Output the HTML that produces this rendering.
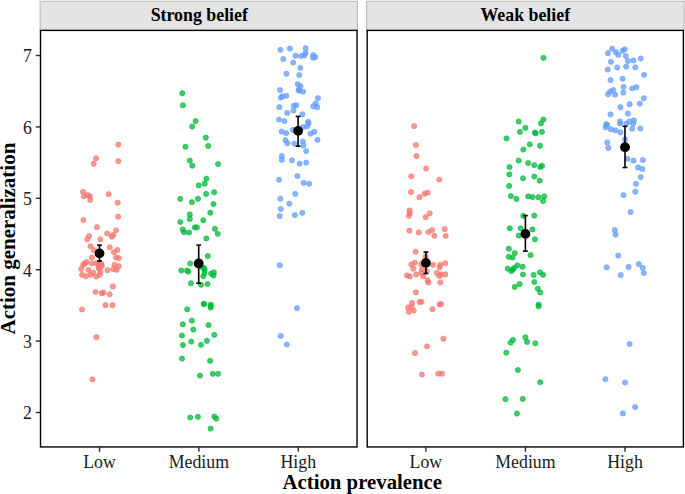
<!DOCTYPE html>
<html><head><meta charset="utf-8"><style>
html,body{margin:0;padding:0;background:#fff;width:685px;height:494px;overflow:hidden}
svg{display:block}
.tk{font-family:"Liberation Serif",serif;font-size:17.8px;fill:#1a1a1a}
.bt{font-family:"Liberation Serif",serif;font-weight:bold;fill:#000}
</style></head><body>
<svg width="685" height="494" viewBox="0 0 685 494">
<rect x="40.1" y="1.3" width="317.3" height="29.1" fill="#e4e4e4" stroke="#b4b4b4" stroke-width="1"/>
<rect x="366.7" y="1.3" width="317.4" height="29.1" fill="#e4e4e4" stroke="#b4b4b4" stroke-width="1"/>
<text x="199.3" y="21.2" text-anchor="middle" class="bt" font-size="17.85">Strong belief</text>
<text x="525.3" y="21.2" text-anchor="middle" class="bt" font-size="17.85">Weak belief</text>
<g fill="#F8766D" stroke="#F8766D" stroke-width="0.8" fill-opacity="0.75" stroke-opacity="0.75"><circle cx="118.3" cy="144.6" r="2.6"/><circle cx="96.1" cy="158.3" r="2.6"/><circle cx="93.7" cy="163.7" r="2.6"/><circle cx="118.3" cy="161.2" r="2.6"/><circle cx="83.1" cy="191.8" r="2.6"/><circle cx="83.7" cy="196.3" r="2.6"/><circle cx="87.7" cy="195.2" r="2.6"/><circle cx="89.8" cy="196.1" r="2.6"/><circle cx="90.2" cy="200.0" r="2.6"/><circle cx="108.6" cy="194.1" r="2.6"/><circle cx="117.7" cy="202.6" r="2.6"/><circle cx="118.1" cy="216.7" r="2.6"/><circle cx="83.4" cy="220.1" r="2.6"/><circle cx="97.0" cy="227.2" r="2.6"/><circle cx="116.0" cy="230.3" r="2.6"/><circle cx="107.2" cy="233.5" r="2.6"/><circle cx="113.2" cy="234.9" r="2.6"/><circle cx="111.8" cy="236.7" r="2.6"/><circle cx="89.1" cy="236.0" r="2.6"/><circle cx="87.2" cy="239.3" r="2.6"/><circle cx="100.4" cy="239.3" r="2.6"/><circle cx="90.5" cy="246.2" r="2.6"/><circle cx="109.8" cy="247.3" r="2.6"/><circle cx="117.4" cy="249.9" r="2.6"/><circle cx="113.9" cy="252.3" r="2.6"/><circle cx="94.0" cy="250.2" r="2.6"/><circle cx="91.9" cy="257.5" r="2.6"/><circle cx="116.0" cy="257.5" r="2.6"/><circle cx="118.8" cy="258.0" r="2.6"/><circle cx="84.8" cy="263.4" r="2.6"/><circle cx="83.1" cy="264.8" r="2.6"/><circle cx="91.9" cy="263.4" r="2.6"/><circle cx="98.3" cy="264.8" r="2.6"/><circle cx="101.8" cy="266.3" r="2.6"/><circle cx="114.6" cy="264.8" r="2.6"/><circle cx="118.8" cy="266.3" r="2.6"/><circle cx="81.3" cy="269.1" r="2.6"/><circle cx="88.4" cy="269.8" r="2.6"/><circle cx="99.0" cy="268.4" r="2.6"/><circle cx="107.5" cy="270.2" r="2.6"/><circle cx="113.2" cy="269.1" r="2.6"/><circle cx="116.7" cy="269.8" r="2.6"/><circle cx="93.3" cy="272.6" r="2.6"/><circle cx="90.5" cy="274.8" r="2.6"/><circle cx="82.0" cy="274.8" r="2.6"/><circle cx="86.0" cy="276.2" r="2.6"/><circle cx="96.2" cy="276.5" r="2.6"/><circle cx="99.7" cy="274.8" r="2.6"/><circle cx="100.4" cy="271.9" r="2.6"/><circle cx="96.5" cy="263.0" r="2.6"/><circle cx="101.5" cy="264.0" r="2.6"/><circle cx="98.5" cy="267.5" r="2.6"/><circle cx="86.5" cy="262.0" r="2.6"/><circle cx="112.9" cy="286.4" r="2.6"/><circle cx="95.5" cy="292.0" r="2.6"/><circle cx="101.6" cy="293.2" r="2.6"/><circle cx="103.5" cy="292.5" r="2.6"/><circle cx="109.6" cy="294.3" r="2.6"/><circle cx="105.5" cy="305.2" r="2.6"/><circle cx="112.5" cy="305.2" r="2.6"/><circle cx="82.0" cy="309.5" r="2.6"/><circle cx="96.4" cy="337.2" r="2.6"/><circle cx="92.4" cy="379.4" r="2.6"/></g><g fill="#00BA38" stroke="#00BA38" stroke-width="0.8" fill-opacity="0.75" stroke-opacity="0.75"><circle cx="182.3" cy="93.2" r="2.6"/><circle cx="182.9" cy="105.3" r="2.6"/><circle cx="195.6" cy="121.1" r="2.6"/><circle cx="192.2" cy="126.5" r="2.6"/><circle cx="205.8" cy="137.7" r="2.6"/><circle cx="185.5" cy="146.8" r="2.6"/><circle cx="208.2" cy="145.9" r="2.6"/><circle cx="189.8" cy="160.6" r="2.6"/><circle cx="192.3" cy="165.7" r="2.6"/><circle cx="218.1" cy="164.1" r="2.6"/><circle cx="206.4" cy="178.7" r="2.6"/><circle cx="204.7" cy="183.7" r="2.6"/><circle cx="198.7" cy="185.4" r="2.6"/><circle cx="206.1" cy="193.9" r="2.6"/><circle cx="214.2" cy="192.2" r="2.6"/><circle cx="180.3" cy="198.8" r="2.6"/><circle cx="191.9" cy="202.2" r="2.6"/><circle cx="198.0" cy="198.8" r="2.6"/><circle cx="213.5" cy="204.1" r="2.6"/><circle cx="189.8" cy="214.4" r="2.6"/><circle cx="210.3" cy="212.7" r="2.6"/><circle cx="189.8" cy="218.9" r="2.6"/><circle cx="180.3" cy="222.0" r="2.6"/><circle cx="203.3" cy="220.3" r="2.6"/><circle cx="194.8" cy="227.4" r="2.6"/><circle cx="196.9" cy="227.4" r="2.6"/><circle cx="182.7" cy="229.5" r="2.6"/><circle cx="184.1" cy="232.2" r="2.6"/><circle cx="189.1" cy="232.6" r="2.6"/><circle cx="214.9" cy="228.8" r="2.6"/><circle cx="217.7" cy="233.8" r="2.6"/><circle cx="206.4" cy="238.4" r="2.6"/><circle cx="207.8" cy="256.0" r="2.6"/><circle cx="190.2" cy="263.5" r="2.6"/><circle cx="181.3" cy="270.5" r="2.6"/><circle cx="187.0" cy="270.5" r="2.6"/><circle cx="188.4" cy="271.6" r="2.6"/><circle cx="204.7" cy="269.9" r="2.6"/><circle cx="204.0" cy="268.1" r="2.6"/><circle cx="213.9" cy="272.3" r="2.6"/><circle cx="211.1" cy="273.7" r="2.6"/><circle cx="202.6" cy="267.5" r="2.6"/><circle cx="204.4" cy="273.1" r="2.6"/><circle cx="203.3" cy="276.3" r="2.6"/><circle cx="213.6" cy="275.5" r="2.6"/><circle cx="190.9" cy="283.3" r="2.6"/><circle cx="201.1" cy="284.8" r="2.6"/><circle cx="207.5" cy="284.0" r="2.6"/><circle cx="203.9" cy="303.9" r="2.6"/><circle cx="203.9" cy="303.9" r="2.6"/><circle cx="210.8" cy="304.7" r="2.6"/><circle cx="210.6" cy="307.6" r="2.6"/><circle cx="210.7" cy="306.2" r="2.6"/><circle cx="187.2" cy="309.3" r="2.6"/><circle cx="191.9" cy="320.6" r="2.6"/><circle cx="182.8" cy="324.3" r="2.6"/><circle cx="208.6" cy="325.0" r="2.6"/><circle cx="193.3" cy="329.6" r="2.6"/><circle cx="182.0" cy="335.5" r="2.6"/><circle cx="214.3" cy="334.8" r="2.6"/><circle cx="191.2" cy="341.6" r="2.6"/><circle cx="183.0" cy="345.0" r="2.6"/><circle cx="201.0" cy="344.8" r="2.6"/><circle cx="206.9" cy="340.8" r="2.6"/><circle cx="182.0" cy="358.6" r="2.6"/><circle cx="210.1" cy="360.8" r="2.6"/><circle cx="200.0" cy="375.6" r="2.6"/><circle cx="212.8" cy="373.8" r="2.6"/><circle cx="218.1" cy="373.8" r="2.6"/><circle cx="190.2" cy="417.5" r="2.6"/><circle cx="197.9" cy="416.8" r="2.6"/><circle cx="214.3" cy="416.5" r="2.6"/><circle cx="216.3" cy="418.6" r="2.6"/><circle cx="210.6" cy="428.6" r="2.6"/></g><g fill="#619CFF" stroke="#619CFF" stroke-width="0.8" fill-opacity="0.75" stroke-opacity="0.75"><circle cx="280.4" cy="49.8" r="2.6"/><circle cx="289.9" cy="48.6" r="2.6"/><circle cx="305.6" cy="48.2" r="2.6"/><circle cx="305.6" cy="52.9" r="2.6"/><circle cx="304.5" cy="55.3" r="2.6"/><circle cx="301.0" cy="56.0" r="2.6"/><circle cx="295.4" cy="55.7" r="2.6"/><circle cx="313.3" cy="55.0" r="2.6"/><circle cx="315.1" cy="57.1" r="2.6"/><circle cx="313.0" cy="57.8" r="2.6"/><circle cx="283.3" cy="59.0" r="2.6"/><circle cx="293.2" cy="62.5" r="2.6"/><circle cx="300.3" cy="67.8" r="2.6"/><circle cx="286.4" cy="73.7" r="2.6"/><circle cx="299.3" cy="75.1" r="2.6"/><circle cx="297.7" cy="84.1" r="2.6"/><circle cx="300.5" cy="86.2" r="2.6"/><circle cx="298.6" cy="89.7" r="2.6"/><circle cx="299.1" cy="90.7" r="2.6"/><circle cx="303.1" cy="91.6" r="2.6"/><circle cx="279.9" cy="90.1" r="2.6"/><circle cx="280.8" cy="97.6" r="2.6"/><circle cx="282.4" cy="96.4" r="2.6"/><circle cx="286.4" cy="95.8" r="2.6"/><circle cx="318.0" cy="98.0" r="2.6"/><circle cx="315.6" cy="103.4" r="2.6"/><circle cx="279.3" cy="107.2" r="2.6"/><circle cx="293.9" cy="105.7" r="2.6"/><circle cx="296.3" cy="105.3" r="2.6"/><circle cx="313.3" cy="106.4" r="2.6"/><circle cx="317.3" cy="107.2" r="2.6"/><circle cx="293.5" cy="110.5" r="2.6"/><circle cx="287.2" cy="113.0" r="2.6"/><circle cx="302.4" cy="114.3" r="2.6"/><circle cx="279.0" cy="119.5" r="2.6"/><circle cx="284.4" cy="121.1" r="2.6"/><circle cx="308.1" cy="121.8" r="2.6"/><circle cx="308.5" cy="123.5" r="2.6"/><circle cx="307.1" cy="126.3" r="2.6"/><circle cx="303.1" cy="127.0" r="2.6"/><circle cx="292.9" cy="129.9" r="2.6"/><circle cx="281.6" cy="131.6" r="2.6"/><circle cx="286.1" cy="133.1" r="2.6"/><circle cx="310.5" cy="133.7" r="2.6"/><circle cx="314.4" cy="131.7" r="2.6"/><circle cx="317.5" cy="139.8" r="2.6"/><circle cx="285.4" cy="140.2" r="2.6"/><circle cx="287.5" cy="143.3" r="2.6"/><circle cx="294.3" cy="143.6" r="2.6"/><circle cx="302.8" cy="141.5" r="2.6"/><circle cx="303.4" cy="145.5" r="2.6"/><circle cx="306.2" cy="151.1" r="2.6"/><circle cx="281.8" cy="156.1" r="2.6"/><circle cx="281.8" cy="159.8" r="2.6"/><circle cx="292.0" cy="160.4" r="2.6"/><circle cx="299.6" cy="163.6" r="2.6"/><circle cx="306.2" cy="162.6" r="2.6"/><circle cx="279.0" cy="179.7" r="2.6"/><circle cx="297.4" cy="176.1" r="2.6"/><circle cx="303.5" cy="182.8" r="2.6"/><circle cx="309.2" cy="183.8" r="2.6"/><circle cx="295.3" cy="193.9" r="2.6"/><circle cx="280.4" cy="198.7" r="2.6"/><circle cx="289.3" cy="203.6" r="2.6"/><circle cx="280.8" cy="209.0" r="2.6"/><circle cx="279.7" cy="216.1" r="2.6"/><circle cx="294.9" cy="215.1" r="2.6"/><circle cx="302.4" cy="212.8" r="2.6"/><circle cx="279.8" cy="265.2" r="2.6"/><circle cx="297.0" cy="308.2" r="2.6"/><circle cx="280.8" cy="335.9" r="2.6"/><circle cx="286.8" cy="344.5" r="2.6"/></g><g fill="#F8766D" stroke="#F8766D" stroke-width="0.8" fill-opacity="0.75" stroke-opacity="0.75"><circle cx="414.1" cy="126.1" r="2.6"/><circle cx="415.9" cy="145.0" r="2.6"/><circle cx="416.6" cy="156.1" r="2.6"/><circle cx="426.1" cy="168.6" r="2.6"/><circle cx="411.3" cy="176.3" r="2.6"/><circle cx="439.2" cy="179.5" r="2.6"/><circle cx="411.0" cy="192.0" r="2.6"/><circle cx="419.5" cy="197.2" r="2.6"/><circle cx="424.7" cy="193.7" r="2.6"/><circle cx="427.6" cy="192.7" r="2.6"/><circle cx="409.6" cy="210.4" r="2.6"/><circle cx="409.8" cy="213.3" r="2.6"/><circle cx="408.8" cy="215.8" r="2.6"/><circle cx="429.7" cy="213.3" r="2.6"/><circle cx="425.7" cy="217.1" r="2.6"/><circle cx="409.4" cy="230.7" r="2.6"/><circle cx="418.8" cy="232.4" r="2.6"/><circle cx="428.5" cy="232.0" r="2.6"/><circle cx="432.1" cy="230.0" r="2.6"/><circle cx="434.3" cy="235.8" r="2.6"/><circle cx="444.7" cy="229.1" r="2.6"/><circle cx="445.7" cy="235.8" r="2.6"/><circle cx="415.5" cy="251.7" r="2.6"/><circle cx="425.7" cy="256.3" r="2.6"/><circle cx="414.8" cy="262.6" r="2.6"/><circle cx="411.3" cy="264.5" r="2.6"/><circle cx="413.4" cy="268.7" r="2.6"/><circle cx="421.2" cy="264.0" r="2.6"/><circle cx="433.2" cy="264.8" r="2.6"/><circle cx="440.3" cy="264.8" r="2.6"/><circle cx="445.3" cy="263.1" r="2.6"/><circle cx="439.6" cy="267.3" r="2.6"/><circle cx="421.9" cy="269.0" r="2.6"/><circle cx="426.8" cy="271.1" r="2.6"/><circle cx="407.0" cy="275.4" r="2.6"/><circle cx="409.8" cy="276.4" r="2.6"/><circle cx="416.2" cy="274.4" r="2.6"/><circle cx="421.5" cy="273.0" r="2.6"/><circle cx="423.3" cy="276.4" r="2.6"/><circle cx="436.8" cy="273.0" r="2.6"/><circle cx="441.0" cy="274.4" r="2.6"/><circle cx="445.3" cy="274.4" r="2.6"/><circle cx="439.3" cy="276.1" r="2.6"/><circle cx="427.6" cy="280.3" r="2.6"/><circle cx="428.3" cy="282.5" r="2.6"/><circle cx="440.3" cy="282.5" r="2.6"/><circle cx="415.8" cy="292.4" r="2.6"/><circle cx="412.1" cy="302.9" r="2.6"/><circle cx="419.5" cy="302.0" r="2.6"/><circle cx="421.5" cy="301.8" r="2.6"/><circle cx="439.6" cy="304.4" r="2.6"/><circle cx="441.0" cy="304.1" r="2.6"/><circle cx="408.2" cy="307.4" r="2.6"/><circle cx="411.5" cy="306.8" r="2.6"/><circle cx="408.8" cy="311.8" r="2.6"/><circle cx="413.7" cy="310.5" r="2.6"/><circle cx="432.5" cy="309.2" r="2.6"/><circle cx="443.4" cy="338.7" r="2.6"/><circle cx="427.0" cy="346.4" r="2.6"/><circle cx="415.0" cy="353.0" r="2.6"/><circle cx="421.9" cy="374.5" r="2.6"/><circle cx="438.3" cy="373.7" r="2.6"/><circle cx="442.0" cy="373.7" r="2.6"/></g><g fill="#00BA38" stroke="#00BA38" stroke-width="0.8" fill-opacity="0.75" stroke-opacity="0.75"><circle cx="543.5" cy="57.8" r="2.6"/><circle cx="518.7" cy="121.5" r="2.6"/><circle cx="543.4" cy="119.5" r="2.6"/><circle cx="541.0" cy="123.3" r="2.6"/><circle cx="525.4" cy="127.9" r="2.6"/><circle cx="520.0" cy="131.8" r="2.6"/><circle cx="534.9" cy="132.5" r="2.6"/><circle cx="535.6" cy="133.3" r="2.6"/><circle cx="542.0" cy="131.8" r="2.6"/><circle cx="506.5" cy="138.4" r="2.6"/><circle cx="529.8" cy="144.3" r="2.6"/><circle cx="540.0" cy="145.7" r="2.6"/><circle cx="523.3" cy="149.6" r="2.6"/><circle cx="518.7" cy="160.5" r="2.6"/><circle cx="528.2" cy="163.0" r="2.6"/><circle cx="534.3" cy="165.1" r="2.6"/><circle cx="540.3" cy="167.0" r="2.6"/><circle cx="542.1" cy="165.8" r="2.6"/><circle cx="509.5" cy="167.0" r="2.6"/><circle cx="509.4" cy="174.4" r="2.6"/><circle cx="523.0" cy="178.3" r="2.6"/><circle cx="534.3" cy="176.5" r="2.6"/><circle cx="539.7" cy="180.6" r="2.6"/><circle cx="509.1" cy="185.9" r="2.6"/><circle cx="510.9" cy="196.1" r="2.6"/><circle cx="516.5" cy="198.9" r="2.6"/><circle cx="528.2" cy="196.4" r="2.6"/><circle cx="532.5" cy="197.1" r="2.6"/><circle cx="538.4" cy="197.2" r="2.6"/><circle cx="544.2" cy="196.4" r="2.6"/><circle cx="543.1" cy="201.0" r="2.6"/><circle cx="523.3" cy="215.9" r="2.6"/><circle cx="534.3" cy="215.6" r="2.6"/><circle cx="509.8" cy="228.3" r="2.6"/><circle cx="520.7" cy="228.3" r="2.6"/><circle cx="532.5" cy="229.4" r="2.6"/><circle cx="518.7" cy="235.5" r="2.6"/><circle cx="534.9" cy="239.3" r="2.6"/><circle cx="508.8" cy="248.7" r="2.6"/><circle cx="514.8" cy="253.0" r="2.6"/><circle cx="508.8" cy="256.8" r="2.6"/><circle cx="512.6" cy="257.5" r="2.6"/><circle cx="530.6" cy="255.1" r="2.6"/><circle cx="507.7" cy="268.6" r="2.6"/><circle cx="511.2" cy="271.0" r="2.6"/><circle cx="514.0" cy="268.1" r="2.6"/><circle cx="517.3" cy="265.3" r="2.6"/><circle cx="522.6" cy="266.7" r="2.6"/><circle cx="512.6" cy="269.6" r="2.6"/><circle cx="523.0" cy="274.5" r="2.6"/><circle cx="533.6" cy="274.9" r="2.6"/><circle cx="540.0" cy="272.4" r="2.6"/><circle cx="543.1" cy="274.8" r="2.6"/><circle cx="534.3" cy="282.0" r="2.6"/><circle cx="514.8" cy="286.8" r="2.6"/><circle cx="519.7" cy="284.1" r="2.6"/><circle cx="537.9" cy="288.7" r="2.6"/><circle cx="540.3" cy="292.4" r="2.6"/><circle cx="538.6" cy="304.5" r="2.6"/><circle cx="538.6" cy="306.2" r="2.6"/><circle cx="512.9" cy="339.9" r="2.6"/><circle cx="510.5" cy="342.7" r="2.6"/><circle cx="525.4" cy="337.3" r="2.6"/><circle cx="527.1" cy="341.9" r="2.6"/><circle cx="535.3" cy="343.3" r="2.6"/><circle cx="506.3" cy="352.6" r="2.6"/><circle cx="517.9" cy="370.0" r="2.6"/><circle cx="540.3" cy="382.2" r="2.6"/><circle cx="505.5" cy="399.2" r="2.6"/><circle cx="522.8" cy="398.8" r="2.6"/><circle cx="516.9" cy="413.6" r="2.6"/></g><g fill="#619CFF" stroke="#619CFF" stroke-width="0.8" fill-opacity="0.75" stroke-opacity="0.75"><circle cx="612.2" cy="48.6" r="2.6"/><circle cx="608.0" cy="53.2" r="2.6"/><circle cx="615.9" cy="52.2" r="2.6"/><circle cx="618.3" cy="55.0" r="2.6"/><circle cx="622.6" cy="50.8" r="2.6"/><circle cx="624.7" cy="49.3" r="2.6"/><circle cx="625.8" cy="56.1" r="2.6"/><circle cx="627.9" cy="61.0" r="2.6"/><circle cx="633.5" cy="60.4" r="2.6"/><circle cx="640.7" cy="58.5" r="2.6"/><circle cx="610.9" cy="61.8" r="2.6"/><circle cx="607.7" cy="69.6" r="2.6"/><circle cx="617.2" cy="67.5" r="2.6"/><circle cx="626.1" cy="66.6" r="2.6"/><circle cx="635.3" cy="67.3" r="2.6"/><circle cx="644.2" cy="74.8" r="2.6"/><circle cx="610.5" cy="80.1" r="2.6"/><circle cx="622.6" cy="78.8" r="2.6"/><circle cx="623.5" cy="86.9" r="2.6"/><circle cx="632.2" cy="88.3" r="2.6"/><circle cx="636.4" cy="87.2" r="2.6"/><circle cx="613.3" cy="90.0" r="2.6"/><circle cx="610.2" cy="91.6" r="2.6"/><circle cx="608.0" cy="94.3" r="2.6"/><circle cx="615.2" cy="94.7" r="2.6"/><circle cx="623.3" cy="92.6" r="2.6"/><circle cx="643.8" cy="98.2" r="2.6"/><circle cx="629.6" cy="104.2" r="2.6"/><circle cx="639.8" cy="103.6" r="2.6"/><circle cx="620.4" cy="107.2" r="2.6"/><circle cx="610.5" cy="114.3" r="2.6"/><circle cx="627.9" cy="113.6" r="2.6"/><circle cx="606.3" cy="124.2" r="2.6"/><circle cx="605.5" cy="127.3" r="2.6"/><circle cx="607.0" cy="124.9" r="2.6"/><circle cx="610.8" cy="129.2" r="2.6"/><circle cx="615.2" cy="130.3" r="2.6"/><circle cx="620.4" cy="132.3" r="2.6"/><circle cx="620.1" cy="121.4" r="2.6"/><circle cx="620.1" cy="123.5" r="2.6"/><circle cx="626.4" cy="123.5" r="2.6"/><circle cx="629.6" cy="121.4" r="2.6"/><circle cx="633.9" cy="120.4" r="2.6"/><circle cx="633.2" cy="123.5" r="2.6"/><circle cx="632.2" cy="128.7" r="2.6"/><circle cx="640.3" cy="128.5" r="2.6"/><circle cx="625.0" cy="139.4" r="2.6"/><circle cx="607.2" cy="142.4" r="2.6"/><circle cx="608.4" cy="147.9" r="2.6"/><circle cx="627.4" cy="158.8" r="2.6"/><circle cx="633.5" cy="160.7" r="2.6"/><circle cx="642.9" cy="160.0" r="2.6"/><circle cx="638.0" cy="167.4" r="2.6"/><circle cx="642.4" cy="169.0" r="2.6"/><circle cx="640.7" cy="177.1" r="2.6"/><circle cx="636.0" cy="183.8" r="2.6"/><circle cx="635.3" cy="191.7" r="2.6"/><circle cx="623.5" cy="195.1" r="2.6"/><circle cx="630.6" cy="212.1" r="2.6"/><circle cx="614.8" cy="230.0" r="2.6"/><circle cx="615.5" cy="234.6" r="2.6"/><circle cx="618.3" cy="255.6" r="2.6"/><circle cx="606.7" cy="267.3" r="2.6"/><circle cx="628.6" cy="266.9" r="2.6"/><circle cx="638.8" cy="264.1" r="2.6"/><circle cx="642.8" cy="267.9" r="2.6"/><circle cx="643.8" cy="273.0" r="2.6"/><circle cx="620.7" cy="275.0" r="2.6"/><circle cx="629.6" cy="344.0" r="2.6"/><circle cx="605.4" cy="379.2" r="2.6"/><circle cx="625.1" cy="382.5" r="2.6"/><circle cx="635.1" cy="407.0" r="2.6"/><circle cx="622.9" cy="413.4" r="2.6"/></g>
<line x1="99.5" y1="245.1" x2="99.5" y2="261.1" stroke="#000" stroke-width="1.6"/><line x1="97.1" y1="245.1" x2="101.9" y2="245.1" stroke="#000" stroke-width="1.6"/><line x1="97.1" y1="261.1" x2="101.9" y2="261.1" stroke="#000" stroke-width="1.6"/><circle cx="99.5" cy="253.4" r="4.9" fill="#000"/><line x1="198.7" y1="245.1" x2="198.7" y2="283.3" stroke="#000" stroke-width="1.6"/><line x1="196.29999999999998" y1="245.1" x2="201.1" y2="245.1" stroke="#000" stroke-width="1.6"/><line x1="196.29999999999998" y1="283.3" x2="201.1" y2="283.3" stroke="#000" stroke-width="1.6"/><circle cx="198.7" cy="263.5" r="4.9" fill="#000"/><line x1="298.1" y1="116.4" x2="298.1" y2="146.2" stroke="#000" stroke-width="1.6"/><line x1="295.70000000000005" y1="116.4" x2="300.5" y2="116.4" stroke="#000" stroke-width="1.6"/><line x1="295.70000000000005" y1="146.2" x2="300.5" y2="146.2" stroke="#000" stroke-width="1.6"/><circle cx="298.1" cy="130.9" r="4.9" fill="#000"/><line x1="425.9" y1="252.0" x2="425.9" y2="273.5" stroke="#000" stroke-width="1.6"/><line x1="423.5" y1="252.0" x2="428.29999999999995" y2="252.0" stroke="#000" stroke-width="1.6"/><line x1="423.5" y1="273.5" x2="428.29999999999995" y2="273.5" stroke="#000" stroke-width="1.6"/><circle cx="425.9" cy="262.9" r="4.9" fill="#000"/><line x1="525.4" y1="215.6" x2="525.4" y2="251.1" stroke="#000" stroke-width="1.6"/><line x1="523.0" y1="215.6" x2="527.8" y2="215.6" stroke="#000" stroke-width="1.6"/><line x1="523.0" y1="251.1" x2="527.8" y2="251.1" stroke="#000" stroke-width="1.6"/><circle cx="525.4" cy="233.9" r="4.9" fill="#000"/><line x1="625.0" y1="126.3" x2="625.0" y2="167.5" stroke="#000" stroke-width="1.6"/><line x1="622.6" y1="126.3" x2="627.4" y2="126.3" stroke="#000" stroke-width="1.6"/><line x1="622.6" y1="167.5" x2="627.4" y2="167.5" stroke="#000" stroke-width="1.6"/><circle cx="625.0" cy="147.2" r="4.9" fill="#000"/>
<rect x="40.5" y="30.4" width="316.55" height="416.55" fill="none" stroke="#000" stroke-width="1.4"/>
<rect x="367.2" y="30.4" width="316.2" height="416.55" fill="none" stroke="#000" stroke-width="1.4"/>
<line x1="35.8" y1="412.50" x2="40.5" y2="412.50" stroke="#2a2a2a" stroke-width="1.4"/><text x="31.9" y="419.30" text-anchor="end" class="tk">2</text><line x1="35.8" y1="341.10" x2="40.5" y2="341.10" stroke="#2a2a2a" stroke-width="1.4"/><text x="31.9" y="347.90" text-anchor="end" class="tk">3</text><line x1="35.8" y1="269.70" x2="40.5" y2="269.70" stroke="#2a2a2a" stroke-width="1.4"/><text x="31.9" y="276.50" text-anchor="end" class="tk">4</text><line x1="35.8" y1="198.30" x2="40.5" y2="198.30" stroke="#2a2a2a" stroke-width="1.4"/><text x="31.9" y="205.10" text-anchor="end" class="tk">5</text><line x1="35.8" y1="126.90" x2="40.5" y2="126.90" stroke="#2a2a2a" stroke-width="1.4"/><text x="31.9" y="133.70" text-anchor="end" class="tk">6</text><line x1="35.8" y1="55.50" x2="40.5" y2="55.50" stroke="#2a2a2a" stroke-width="1.4"/><text x="31.9" y="62.30" text-anchor="end" class="tk">7</text>
<line x1="99.50" y1="446.9" x2="99.50" y2="451.8" stroke="#2a2a2a" stroke-width="1.4"/><text x="99.50" y="467.8" text-anchor="middle" class="tk">Low</text><line x1="425.90" y1="446.9" x2="425.90" y2="451.8" stroke="#2a2a2a" stroke-width="1.4"/><text x="425.90" y="467.8" text-anchor="middle" class="tk">Low</text><line x1="198.90" y1="446.9" x2="198.90" y2="451.8" stroke="#2a2a2a" stroke-width="1.4"/><text x="198.90" y="467.8" text-anchor="middle" class="tk">Medium</text><line x1="525.45" y1="446.9" x2="525.45" y2="451.8" stroke="#2a2a2a" stroke-width="1.4"/><text x="525.45" y="467.8" text-anchor="middle" class="tk">Medium</text><line x1="298.30" y1="446.9" x2="298.30" y2="451.8" stroke="#2a2a2a" stroke-width="1.4"/><text x="298.30" y="467.8" text-anchor="middle" class="tk">High</text><line x1="625.00" y1="446.9" x2="625.00" y2="451.8" stroke="#2a2a2a" stroke-width="1.4"/><text x="625.00" y="467.8" text-anchor="middle" class="tk">High</text>
<text x="362.3" y="488.5" text-anchor="middle" class="bt" font-size="20.8">Action prevalence</text>
<text transform="translate(15.1,238.6) rotate(-90)" text-anchor="middle" class="bt" font-size="21">Action generalization</text>
</svg>
</body></html>
